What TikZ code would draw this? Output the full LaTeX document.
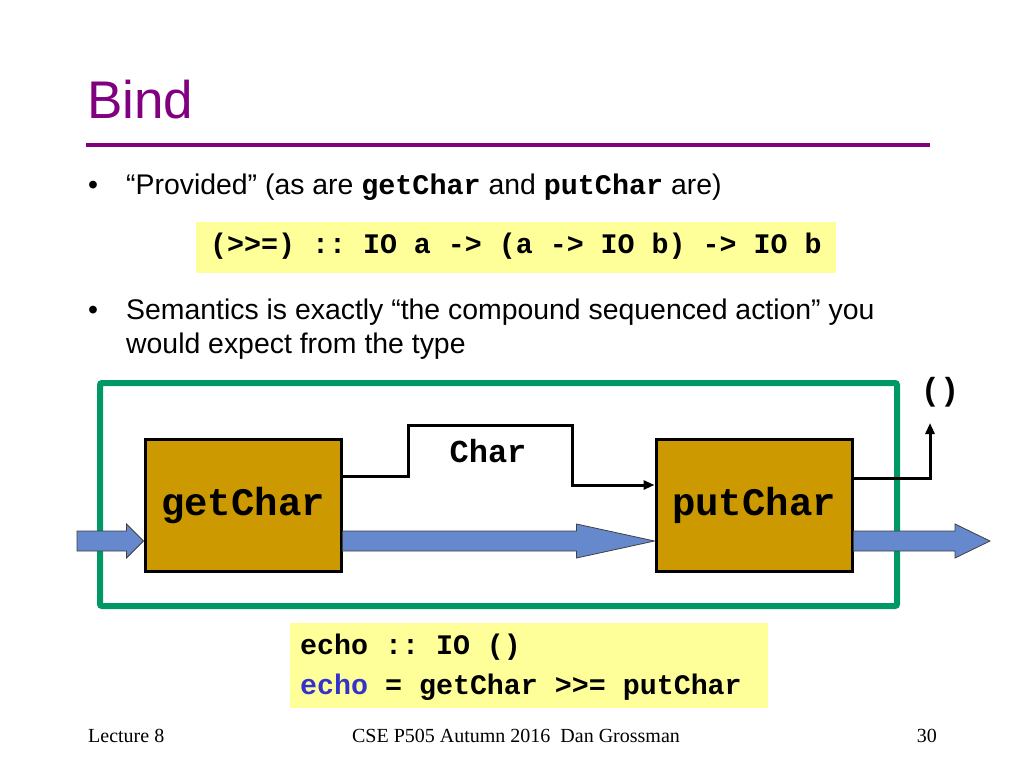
\documentclass[tikz,border=0pt]{standalone}
\usepackage{fontspec}
\setmainfont{Liberation Sans}
\setmonofont{Liberation Mono}
\newfontfamily\footfont{Liberation Serif}
\usetikzlibrary{arrows.meta,calc}

\definecolor{titlepurple}{RGB}{128,0,128}
\definecolor{codeyellow}{RGB}{255,255,153}
\definecolor{framegreen}{RGB}{0,153,102}
\definecolor{actiongold}{RGB}{204,153,0}
\definecolor{flowblue}{RGB}{102,136,204}
\definecolor{echoblue}{RGB}{51,51,204}

% horizontal block arrow: start, end, head length
\newcommand\flow[3]{%
  \draw[flow] let \p1=(#1), \p2=(#2) in
    (\x1,\y1+10pt) -- (\x2-#3,\y1+10pt) -- (\x2-#3,\y1+17pt) -- (\x2,\y1)
    -- (\x2-#3,\y1-17pt) -- (\x2-#3,\y1-10pt) -- (\x1,\y1-10pt) -- cycle;}

\begin{document}
\begin{tikzpicture}[x=1pt,y=-1pt,
  body/.style={anchor=base west,inner sep=0pt,font=\fontsize{28.4}{34}\selectfont},
  code/.style={anchor=base west,inner sep=0pt,font=\fontsize{28.3}{34}\selectfont\ttfamily\bfseries},
  action/.style={draw,line width=3pt,fill=actiongold,minimum width=196pt,minimum height=132pt,
    font=\fontsize{39}{40}\selectfont\ttfamily\bfseries},
  wire/.style={line width=3pt,-{Triangle[length=11pt,width=9pt]}},
  flow/.style={draw=black!75,line width=0.8pt,fill=flowblue},
  foot/.style={inner sep=0pt,font=\fontsize{20}{20}\selectfont\footfont}]
\useasboundingbox[fill=white] (0,0) rectangle (1024,768);

% title
\node[anchor=base west,inner sep=0pt,text=titlepurple,font=\fontsize{53}{56}\selectfont] (title) at (87,118) {Bind};
\draw[titlepurple,line width=4pt] (86,145) -- (930,145);

% bullets
\node[body] (dot1) at (88,194) {\textbullet};
\node[body] (prov) at (126,194) {“Provided” (as are \texttt{\bfseries getChar} and \texttt{\bfseries putChar} are)};
\node[draw=none,fill=codeyellow,minimum width=640pt,minimum height=51pt,anchor=north west] (sigbox) at (196,222) {};
\node[code] (sig) at (210,253) {(>>=) :: IO a -> (a -> IO b) -> IO b};
\node[body] (dot2) at (88,319) {\textbullet};
\node[body] (sem1) at (126,319) {Semantics is exactly “the compound sequenced action” you};
\node[body] (sem2) at (126,353) {would expect from the type};

% the composed action
\draw[framegreen,line width=6pt,rounded corners=2pt] (100,383) rectangle (897,606);
\node[action] (getChar) at (243,505) {getChar};
\node[action] (putChar) at (754,505) {putChar};
\node[inner sep=0pt,font=\fontsize{32}{34}\selectfont\ttfamily\bfseries] (char) at (488,451) {Char};
\node[inner sep=0pt,font=\fontsize{32}{34}\selectfont\ttfamily\bfseries] (unit) at (940,392) {()};
\coordinate (src) at (77,541);
\coordinate (sink) at (990,541);
\coordinate (unitin) at (930,423);

\flow{src}{getChar.west |- src}{17pt}
\flow{getChar.east |- src}{putChar.west |- src}{78pt}
\flow{putChar.east |- src}{sink}{35pt}

\draw[wire] ([yshift=29pt]getChar.east) -- (408,476) -- (408,425) -- (572,425) -- (572,485) -- ([yshift=20pt]putChar.west);
\draw[wire] ([yshift=27pt]putChar.east) -| (unitin);

% echo
\node[draw=none,fill=codeyellow,minimum width=478pt,minimum height=85pt,anchor=north west] (echobox) at (290,623) {};
\node[code] (echo1) at (300,654) {echo :: IO ()};
\node[code] (echo2) at (300,694) {\textcolor{echoblue}{echo} = getChar >>= putChar};

% footer
\node[foot,anchor=west] (lect) at (88,736) {Lecture 8};
\node[foot] (course) at (516,736) {CSE P505 Autumn 2016\ \ Dan Grossman};
\node[foot,anchor=east] (page) at (937,736) {30};
\end{tikzpicture}
\end{document}
